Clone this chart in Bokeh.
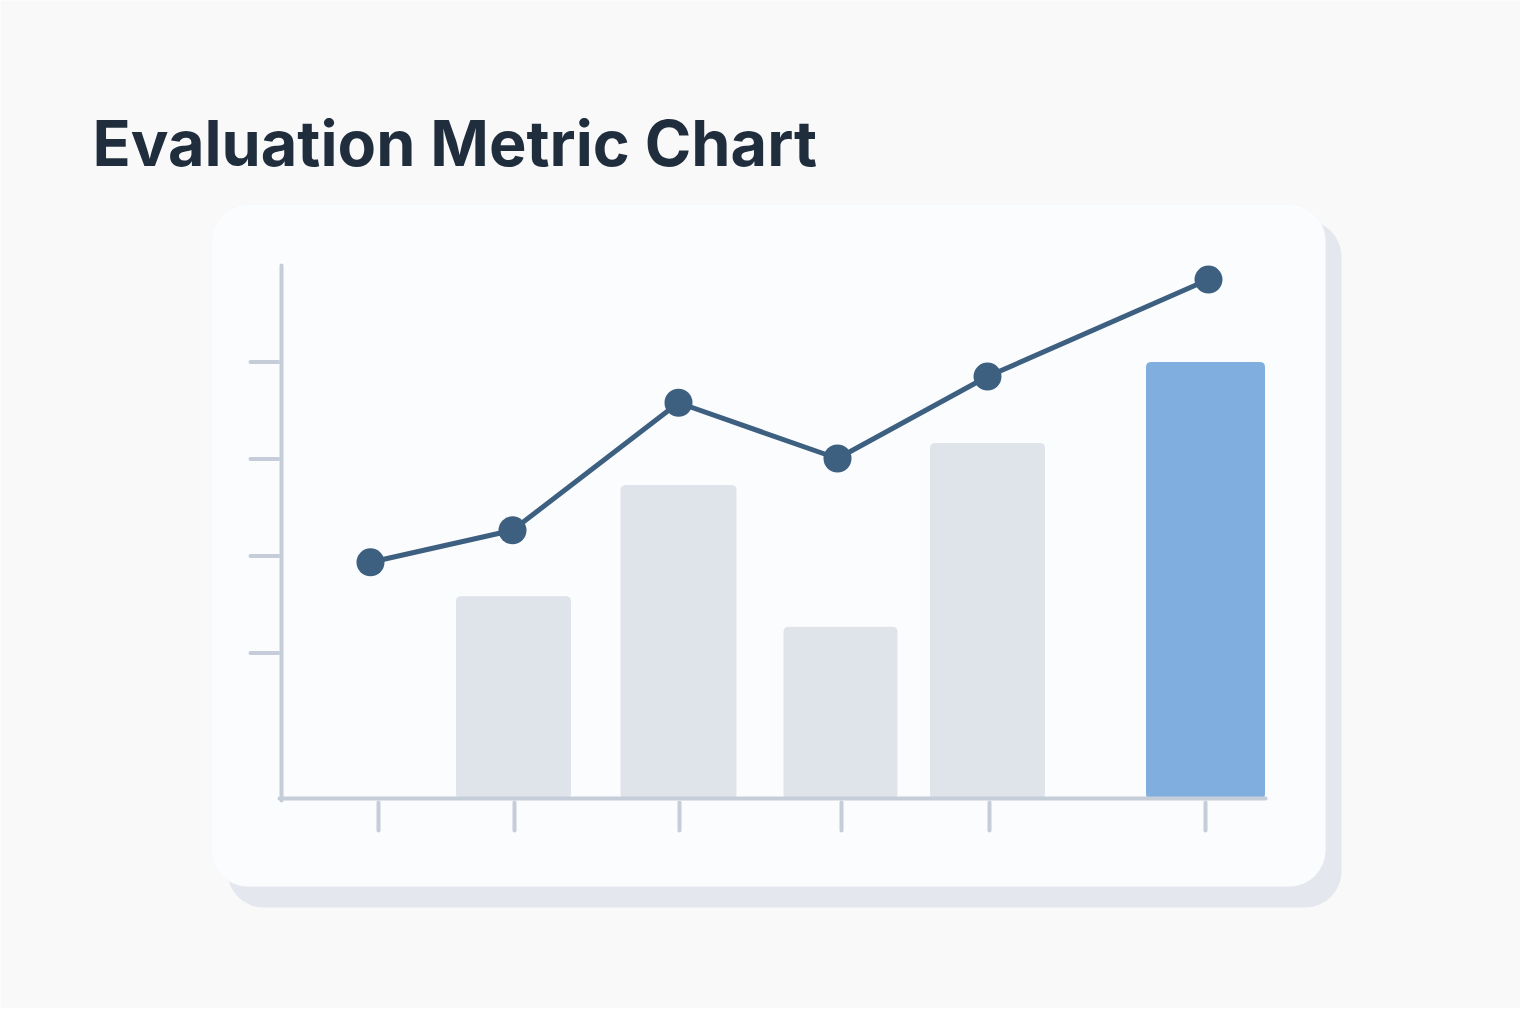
from bokeh.plotting import figure
from bokeh.models import Range1d, BoxAnnotation, Label
from bokeh.embed import file_html
from bokeh.resources import INLINE

# data
x_pos = [362, 504, 670, 829, 979, 1200]          # line points
line_vals = [48.7, 55.3, 81.6, 70.1, 87.0, 107.0]
bar_pos = [505, 670, 832, 979, 1197]
bar_vals = [41.6, 64.5, 35.3, 73.2, 89.9]
bar_widths = [114, 115, 113, 114, 118]
bar_colors = ["#dfe3ea", "#dfe3ea", "#dfe3ea", "#dfe3ea", "#80aede"]
x_ticks = [370, 506, 671, 833, 981, 1197]
y_ticks = [30, 50, 70, 90]

W, H = 1520, 1008
PX = 4.85  # pixels per value unit


def vy(page_y):
    # pixel row -> value units (baseline at row 798)
    return (798 - page_y) / PX


p = figure(width=W, height=H, output_backend="svg", toolbar_location=None,
           x_range=Range1d(-8, W - 8), y_range=Range1d(vy(H), vy(0)),
           min_border=0, background_fill_color="#f9f9fa",
           border_fill_color="#f9f9fa", outline_line_color=None)
p.axis.visible = False
p.grid.visible = False

# card shadow and card
p.add_layout(BoxAnnotation(left=219, right=1333, top=vy(220), bottom=vy(907),
                           fill_color="#e4e8ee", fill_alpha=1, line_color=None,
                           border_radius=36, level="underlay"))
p.add_layout(BoxAnnotation(left=203, right=1317, top=vy(204), bottom=vy(886),
                           fill_color="#fbfcfe", fill_alpha=1, line_color="#f0f2f5",
                           border_radius=36, level="underlay"))

# bars
p.vbar(x=bar_pos, top=bar_vals, bottom=0, width=bar_widths, color=bar_colors,
       border_radius=4)

# axes
axis_col = "#c5cdd9"
p.segment(x0=[273, 271], y0=[vy(800), 0], x1=[273, 1257], y1=[vy(265), 0],
          line_color=axis_col, line_width=4, line_cap="round")
p.segment(x0=[242] * 4, y0=y_ticks, x1=[270] * 4, y1=y_ticks,
          line_color=axis_col, line_width=4, line_cap="round")
p.segment(x0=x_ticks, y0=[vy(802)] * 6, x1=x_ticks, y1=[vy(830)] * 6,
          line_color=axis_col, line_width=4, line_cap="round")

# line
p.line(x_pos, line_vals, line_color="#3d5f80", line_width=5)
p.scatter(x_pos, line_vals, size=28, fill_color="#3d5f80", line_color=None)

p.add_layout(Label(x=92, y=H - 142, x_units="screen", y_units="screen",
                   text="Evaluation Metric Chart", text_font="Inter",
                   text_font_size="63px", text_font_style="bold",
                   text_color="#1f2d3d", text_baseline="alphabetic"))

open("out.html", "w").write(file_html(p, INLINE))
